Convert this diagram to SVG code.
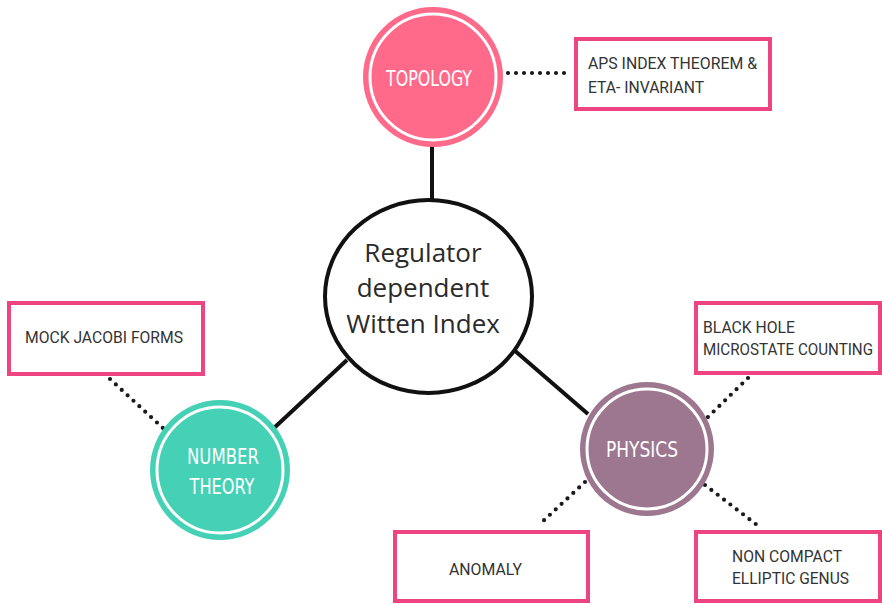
<svg xmlns="http://www.w3.org/2000/svg" width="882" height="604" viewBox="0 0 882 604">
<style>
.solid{stroke:#111;stroke-width:4;fill:none}
.dot{stroke:#1a1a1a;stroke-width:4.2;stroke-linecap:round;stroke-dasharray:0 8;fill:none}
.box{fill:#fff;stroke:#EE4582;stroke-width:4}
.bt{font-family:Roboto,"Liberation Sans",sans-serif;font-size:17px;fill:#333}
.ring{fill:none;stroke:#fff;stroke-width:3}
.ct{font-family:"DejaVu Sans Condensed","DejaVu Sans",sans-serif;font-size:21px;fill:#fff;text-anchor:middle}
.mt{font-family:"Open Sans","Noto Sans",sans-serif;font-size:26px;fill:#2a2a2a;text-anchor:middle}
</style>
<rect width="882" height="604" fill="#fff"/>
<g id="connectors">
<line class="solid" x1="432" y1="144" x2="432" y2="200"/>
<line class="solid" x1="347" y1="360" x2="274" y2="428"/>
<line class="solid" x1="514" y1="350" x2="588" y2="414"/>
<line class="dot" x1="508" y1="73" x2="570" y2="73"/>
<line class="dot" x1="110" y1="379" x2="165" y2="430"/>
<line class="dot" x1="748" y1="378" x2="707" y2="418"/>
<line class="dot" x1="585" y1="482" x2="540" y2="524"/>
<line class="dot" x1="705" y1="485" x2="757" y2="525"/>
</g>
<g id="center">
<ellipse cx="428.5" cy="296.5" rx="103.5" ry="96.5" fill="#fff" stroke="#111" stroke-width="4"/>
<text class="mt" x="423" y="262">Regulator</text>
<text class="mt" x="423" y="297">dependent</text>
<text class="mt" x="423" y="333">Witten Index</text>
</g>
<g id="topology">
<circle cx="433" cy="77" r="70" fill="#FF6A8B"/>
<circle class="ring" cx="433" cy="77" r="63"/>
<text class="ct" x="429" y="86" textLength="86" lengthAdjust="spacingAndGlyphs">TOPOLOGY</text>
</g>
<g id="number-theory">
<circle cx="220" cy="470" r="70" fill="#45D1B6"/>
<circle class="ring" cx="220" cy="470" r="63"/>
<text class="ct" x="223" y="464" textLength="72" lengthAdjust="spacingAndGlyphs">NUMBER</text>
<text class="ct" x="222" y="494" textLength="65" lengthAdjust="spacingAndGlyphs">THEORY</text>
</g>
<g id="physics">
<circle cx="647" cy="449" r="67" fill="#9D778F"/>
<circle class="ring" cx="647" cy="449" r="60"/>
<text class="ct" x="642" y="457" textLength="72" lengthAdjust="spacingAndGlyphs">PHYSICS</text>
</g>
<g id="aps">
<rect class="box" x="576" y="39" width="194" height="70"/>
<text class="bt" x="588" y="69" textLength="169" lengthAdjust="spacingAndGlyphs">APS INDEX THEOREM &amp;</text>
<text class="bt" x="588" y="93" textLength="116" lengthAdjust="spacingAndGlyphs">ETA- INVARIANT</text>
</g>
<g id="mock">
<rect class="box" x="9" y="303" width="194" height="71"/>
<text class="bt" x="25" y="343" textLength="158" lengthAdjust="spacingAndGlyphs">MOCK JACOBI FORMS</text>
</g>
<g id="black-hole">
<rect class="box" x="696" y="303" width="184" height="70"/>
<text class="bt" x="703" y="333" textLength="92" lengthAdjust="spacingAndGlyphs">BLACK HOLE</text>
<text class="bt" x="703" y="355" style="font-size:16px" textLength="170" lengthAdjust="spacingAndGlyphs">MICROSTATE COUNTING</text>
</g>
<g id="anomaly">
<rect class="box" x="395" y="532" width="193" height="69"/>
<text class="bt" x="449" y="575" textLength="73" lengthAdjust="spacingAndGlyphs">ANOMALY</text>
</g>
<g id="non-compact">
<rect class="box" x="696" y="532" width="184" height="69"/>
<text class="bt" x="732" y="562" textLength="110" lengthAdjust="spacingAndGlyphs">NON COMPACT</text>
<text class="bt" x="732" y="584" textLength="117" lengthAdjust="spacingAndGlyphs">ELLIPTIC GENUS</text>
</g>
</svg>
